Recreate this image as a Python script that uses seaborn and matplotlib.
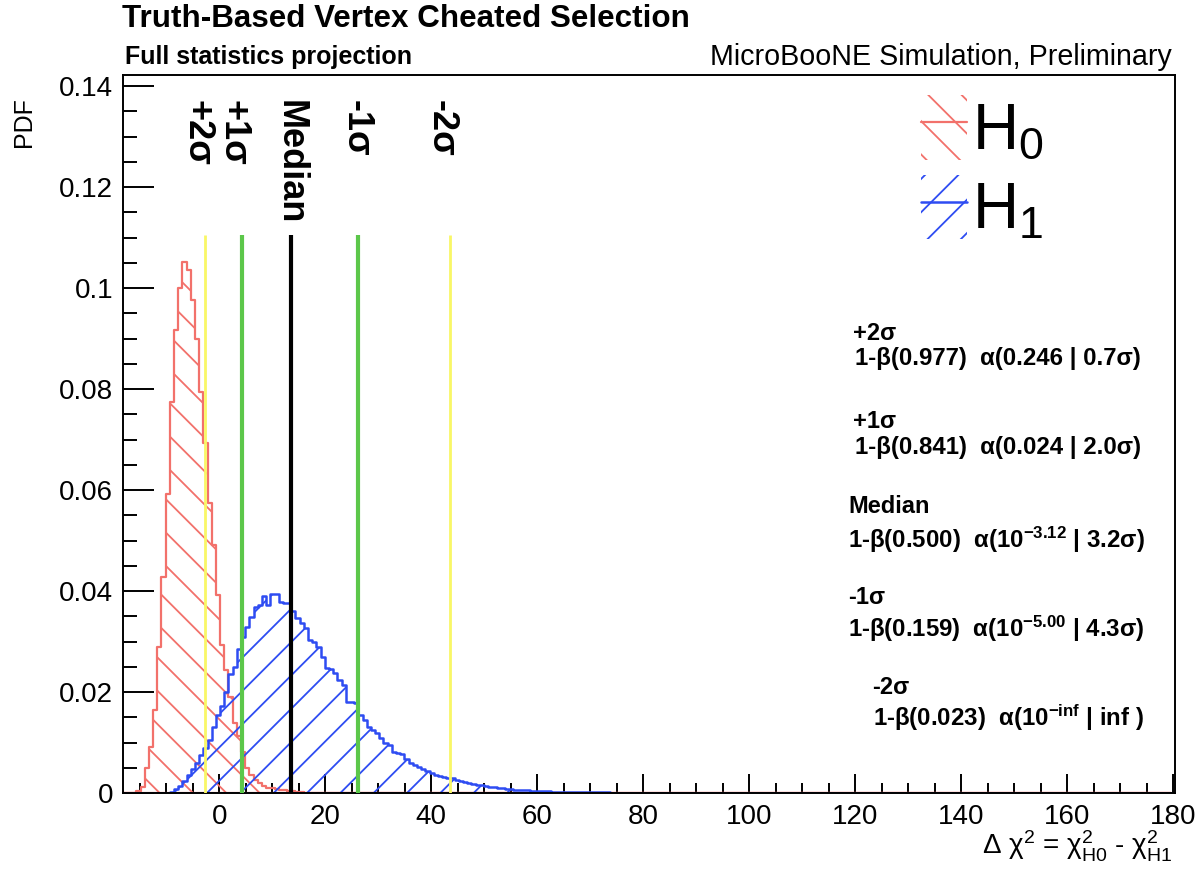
import numpy as np
import pandas as pd
import matplotlib
matplotlib.use("Agg")
import matplotlib.pyplot as plt
import seaborn as sns
from matplotlib.patches import Patch
from matplotlib.lines import Line2D
from matplotlib.ticker import MultipleLocator, FuncFormatter

# ---------------- data ----------------
HIST_START = -18.0     # lower edge of first bin
BIN_WIDTH = 0.79       # bin width in delta chi2
N_BINS = 250

h0_first_bin = 3
h0_pdf = [0.0003, 0.0012, 0.0049, 0.0092, 0.0164, 0.0290, 0.0428, 0.0592, 0.0775,
          0.0917, 0.1001, 0.1052, 0.1036, 0.0976, 0.0900, 0.0795, 0.0694, 0.0574,
          0.0491, 0.0392, 0.0293, 0.0244, 0.0190, 0.0138, 0.0112, 0.0082, 0.0049,
          0.0036, 0.0026, 0.0020, 0.0013, 0.0010, 0.0010, 0.0008, 0.0006, 0.0005,
          0.0004, 0.0003, 0.0002, 0.0001]

h1_first_bin = 11
h1_pdf = [0.0002, 0.0007, 0.0013, 0.0023, 0.0035, 0.0047, 0.0059, 0.0075, 0.0090,
          0.0105, 0.0131, 0.0155, 0.0172, 0.0200, 0.0235, 0.0250, 0.0285, 0.0308,
          0.0328, 0.0348, 0.0369, 0.0373, 0.0390, 0.0372, 0.0394, 0.0394, 0.0379,
          0.0377, 0.0376, 0.0360, 0.0346, 0.0336, 0.0327, 0.0303, 0.0300, 0.0290,
          0.0270, 0.0247, 0.0245, 0.0237, 0.0224, 0.0214, 0.0181, 0.0180, 0.0178,
          0.0155, 0.0145, 0.0131, 0.0125, 0.0118, 0.0108, 0.0100, 0.0095, 0.0082,
          0.0080, 0.0078, 0.0068, 0.0059, 0.0055, 0.0052, 0.0047, 0.0043, 0.0039,
          0.0036, 0.0033, 0.0032, 0.0030, 0.0029, 0.0025, 0.0023, 0.0021, 0.0020,
          0.0018, 0.0016, 0.0015, 0.0013, 0.0012, 0.0011, 0.0010, 0.0009, 0.0008,
          0.0007, 0.0006, 0.0006, 0.0005, 0.0005, 0.0004, 0.0004, 0.0003, 0.0003,
          0.0003, 0.0002, 0.0002, 0.0002, 0.0002, 0.0001, 0.0001, 0.0001, 0.0001,
          0.0001, 0.0001, 0.0001, 0.0001, 0.0001, 0.0001, 0.00005, 0.00005, 0.00005,
          0.00005, 0.00005, 0.00005, 0.00005, 0.00005, 0.00005, 0.00005]

line_names = ["+2σ", "+1σ", "Median", "-1σ", "-2σ"]
line_x = [-2.6, 4.3, 13.6, 26.2, 43.6]
line_label_x = [-4.2, 2.6, 13.3, 25.8, 41.8]
line_top = 0.1105

stat_heads = ["+2σ", "+1σ", "Median", "-1σ", "-2σ"]
stat_lines = [
    "1-β(0.977)  α(0.246 | 0.7σ)",
    "1-β(0.841)  α(0.024 | 2.0σ)",
    r"1-β(0.500)  α(10$^{\mathbf{-3.12}}$ | 3.2σ)",
    r"1-β(0.159)  α(10$^{\mathbf{-5.00}}$ | 4.3σ)",
    r"1-β(0.023)  α(10$^{\mathbf{-inf}}$ | inf )",
]

x_ticks = [0, 20, 40, 60, 80, 100, 120, 140, 160, 180]
y_ticks = [0, 0.02, 0.04, 0.06, 0.08, 0.1, 0.12, 0.14]

# ---------------- styling ----------------
RED = "#f2716b"
BLUE = "#2e4cf2"
YELLOW = "#f9f766"
GREEN = "#5cc74a"

sns.set_style("ticks")
plt.rcParams["font.family"] = ["Liberation Sans", "DejaVu Sans"]
plt.rcParams["mathtext.fontset"] = "custom"
plt.rcParams["mathtext.rm"] = "Liberation Sans"
plt.rcParams["mathtext.it"] = "Liberation Sans:italic"
plt.rcParams["mathtext.bf"] = "Liberation Sans:bold"
plt.rcParams["hatch.linewidth"] = 1.3
for key in ["text.color", "axes.labelcolor", "xtick.color", "ytick.color",
            "xtick.labelcolor", "ytick.labelcolor", "axes.edgecolor"]:
    plt.rcParams[key] = "black"

W, H = 1200, 871
fig = plt.figure(figsize=(W / 100, H / 100), dpi=100)
ax = fig.add_axes([123 / W, 1 - 793 / H, (1175 - 123) / W, (793 - 75) / H])

def fx(px):
    return px / W

def fy(py):
    return 1 - py / H

# ---------------- histograms ----------------
centers = HIST_START + BIN_WIDTH * (np.arange(N_BINS) + 0.5)
bin_range = (HIST_START, HIST_START + BIN_WIDTH * N_BINS)

def weights(first, vals):
    w = np.zeros(N_BINS)
    w[first:first + len(vals)] = vals
    return w

df = pd.DataFrame({"x": centers,
                   "H0": weights(h0_first_bin, h0_pdf),
                   "H1": weights(h1_first_bin, h1_pdf)})

sns.histplot(data=df, x="x", weights="H0", binwidth=BIN_WIDTH, binrange=bin_range,
             element="step", fill=True, color=RED, facecolor="none",
             edgecolor=RED, hatch="\\", linewidth=1.6, ax=ax)
sns.histplot(data=df, x="x", weights="H1", binwidth=BIN_WIDTH, binrange=bin_range,
             element="step", fill=True, color=BLUE, facecolor="none",
             edgecolor=BLUE, hatch="/", linewidth=1.8, ax=ax)

# ---------------- vertical lines ----------------
line_colors = [YELLOW, GREEN, "black", GREEN, YELLOW]
line_widths = [2.0, 3.0, 3.0, 3.0, 2.0]
for xv, c, lw in zip(line_x, line_colors, line_widths):
    ax.vlines(xv, 0, line_top, colors=c, linewidth=lw, zorder=5)

for name, xl in zip(line_names, line_label_x):
    ax.text(xl, 0.1372, name, rotation=270, ha="center", va="top",
            fontsize=26, fontweight="bold", color="black")

# ---------------- axes ----------------
ax.set_xlim(-18.15, 180.3)
ax.set_ylim(0, 0.1422)
ax.set_xlabel("")
ax.set_ylabel("")
ax.set_xticks(x_ticks)
ax.set_yticks(y_ticks)
ax.xaxis.set_minor_locator(MultipleLocator(5))
ax.yaxis.set_minor_locator(MultipleLocator(0.005))
ax.yaxis.set_major_formatter(FuncFormatter(lambda v, p: "%g" % v))
ax.xaxis.set_major_formatter(FuncFormatter(lambda v, p: "%g" % v))
ax.tick_params(axis="both", which="both", direction="in", top=False, right=False,
               labelsize=20, width=1.4, color="black", labelcolor="black")
ax.tick_params(axis="x", which="major", length=14, pad=8)
ax.tick_params(axis="x", which="minor", length=7)
ax.tick_params(axis="y", which="major", length=22, pad=7)
ax.tick_params(axis="y", which="minor", length=10)
for s in ax.spines.values():
    s.set_visible(True)
    s.set_linewidth(1.4)
    s.set_color("black")

# ---------------- legend ----------------
h0_handle = (Patch(facecolor="none", edgecolor=RED, hatch="\\", linewidth=0),
             Line2D([], [], color=RED, lw=1.6))
h1_handle = (Patch(facecolor="none", edgecolor=BLUE, hatch="/", linewidth=0),
             Line2D([], [], color=BLUE, lw=1.8))
leg = ax.legend([h0_handle, h1_handle], ["H$_0$", "H$_1$"], loc="upper left",
                bbox_to_anchor=(fx(921), fy(95)), bbox_transform=fig.transFigure,
                fontsize=46, handlelength=0.72, handleheight=1.18,
                handletextpad=0.08, labelspacing=0.2, frameon=False,
                borderpad=0, borderaxespad=0)
for t in leg.get_texts():
    t.set_color("black")

# ---------------- stats text ----------------
head_pos = [(853, 333), (853, 421), (848, 506), (848, 598), (872, 687)]
line_pos = [(855, 358), (855, 447), (848, 540), (848, 629), (873, 718)]
for t, (px, py) in zip(stat_heads, head_pos):
    fig.text(fx(px), fy(py), t, ha="left", va="center", fontsize=17,
             fontweight="bold")
for t, (px, py) in zip(stat_lines, line_pos):
    fig.text(fx(px), fy(py), t, ha="left", va="center", fontsize=17.3,
             fontweight="bold")

# ---------------- titles and axis labels ----------------
fig.text(fx(122), fy(19), "Truth-Based Vertex Cheated Selection", ha="left",
         va="center", fontsize=22.6, fontweight="bold")
fig.text(fx(125), fy(57), "Full statistics projection", ha="left",
         va="center", fontsize=18, fontweight="bold")
fig.text(fx(1172), fy(57), "MicroBooNE Simulation, Preliminary", ha="right",
         va="center", fontsize=20.6)
fig.text(fx(24), fy(97), "PDF", rotation=90, ha="center", va="top", fontsize=18)
fig.text(fx(1172), fy(846),
         r"Δ χ$^{2}$ = χ$^{2}_{\mathrm{H0}}$ - χ$^{2}_{\mathrm{H1}}$",
         ha="right", va="center", fontsize=20)

fig.savefig("out.png", dpi=100)
